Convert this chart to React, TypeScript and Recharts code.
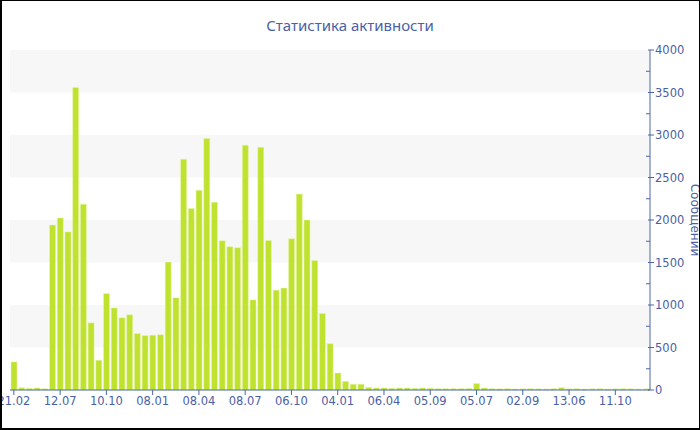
import React from 'react';
import { BarChart, Bar, XAxis, YAxis, ReferenceArea } from 'recharts';

// Activity values per period (83 periods)
const messages: number[] = [
  330, 27, 20, 24, 15, 1940, 2025, 1860, 3560, 2185,
  790, 350, 1135, 965, 850, 885, 665, 640, 645, 650,
  1505, 1085, 2715, 2135, 2350, 2960, 2210, 1755, 1685, 1675,
  2880, 1060, 2855, 1760, 1175, 1200, 1780, 2305, 2000, 1525,
  900, 545, 200, 102, 68, 68, 31, 24, 24, 20,
  24, 24, 20, 24, 20, 16, 16, 16, 16, 18,
  76, 24, 16, 14, 16, 12, 14, 16, 14, 12,
  16, 28, 14, 16, 12, 14, 16, 12, 14, 16,
  14, 12, 14,
];

// Labels shown every 6th period
const tickLabels: string[] = [
  '21.02', '12.07', '10.10', '08.01', '08.04', '08.07', '06.10',
  '04.01', '06.04', '05.09', '05.07', '02.09', '13.06', '11.10',
];

const yTicks: number[] = [0, 250, 500, 750, 1000, 1250, 1500, 1750, 2000, 2250, 2500, 2750, 3000, 3250, 3500, 3750, 4000];
const bands: [number, number][] = [[500, 1000], [1500, 2000], [2500, 3000], [3500, 4000]];

const title = 'Статистика активности';
const yTitle = 'Сообщений';

const data = messages.map((v, i) => ({ idx: i, value: v }));

const BLUE = '#4a5fa6';
const AXIS = '#4a66a8';
const FONT = '"DejaVu Sans", Verdana, sans-serif';

const YTick = (props: any) => {
  const { x, y, payload } = props;
  const v = payload.value as number;
  const major = v % 500 === 0;
  return (
    <g>
      {major ? (
        <>
          <line x1={x - 2} x2={x + 4} y1={y} y2={y} stroke={AXIS} />
          <text x={x + 5} y={y} dy="0.36em" fill={BLUE} fontSize={11.5} fontFamily={FONT} textAnchor="start">
            {v}
          </text>
        </>
      ) : (
        <line x1={x - 4} x2={x} y1={y} y2={y} stroke={AXIS} />
      )}
    </g>
  );
};

export default function App() {
  return (
    <div style={{ position: 'absolute', left: 0, top: 0, width: 700, height: 430, background: '#fff' }}>
      <BarChart
        width={700}
        height={430}
        data={data}
        margin={{ top: 50, right: 0, bottom: 0, left: 10 }}
        barCategoryGap={1}
      >
        {bands.map(([a, b]) => (
          <ReferenceArea key={a} y1={a} y2={b} fill="#f7f7f7" fillOpacity={1} stroke="none" ifOverflow="hidden" />
        ))}
        <XAxis
          dataKey="idx"
          type="category"
          interval={5}
          height={40}
          tickSize={5}
          tickMargin={2}
          stroke={AXIS}
          tickLine={{ stroke: AXIS }}
          tick={{ fill: BLUE, fontSize: 11.5, fontFamily: FONT }}
          tickFormatter={(v: number) => tickLabels[Math.round(v / 6)] ?? ''}
        />
        <YAxis
          orientation="right"
          width={50}
          domain={[0, 4000]}
          ticks={yTicks}
          interval={0}
          stroke={AXIS}
          tickLine={false}
          tickSize={0}
          tickMargin={0}
          tick={<YTick />}
          label={{ value: yTitle, angle: 90, position: 'center', dx: 20, fill: BLUE, fontSize: 12, fontFamily: FONT }}
        />
        <Bar dataKey="value" fill="#bfe22f" stroke="#e6f4b0" strokeWidth={0.5} barSize={6} isAnimationActive={false} />
      </BarChart>
      <div
        style={{
          position: 'absolute',
          left: 0,
          top: 15,
          width: 700,
          textAlign: 'center',
          fontFamily: '"Noto Sans", "Open Sans", sans-serif',
          fontSize: 15,
          color: BLUE,
          lineHeight: '20px',
        }}
      >
        {title}
      </div>
      <div
        style={{
          position: 'absolute',
          left: 0,
          top: 0,
          width: 700,
          height: 430,
          boxSizing: 'border-box',
          borderTop: '1px solid #000',
          borderLeft: '2px solid #000',
          borderBottom: '2px solid #000',
          borderRight: '1px solid #000',
          pointerEvents: 'none',
        }}
      />
    </div>
  );
}
